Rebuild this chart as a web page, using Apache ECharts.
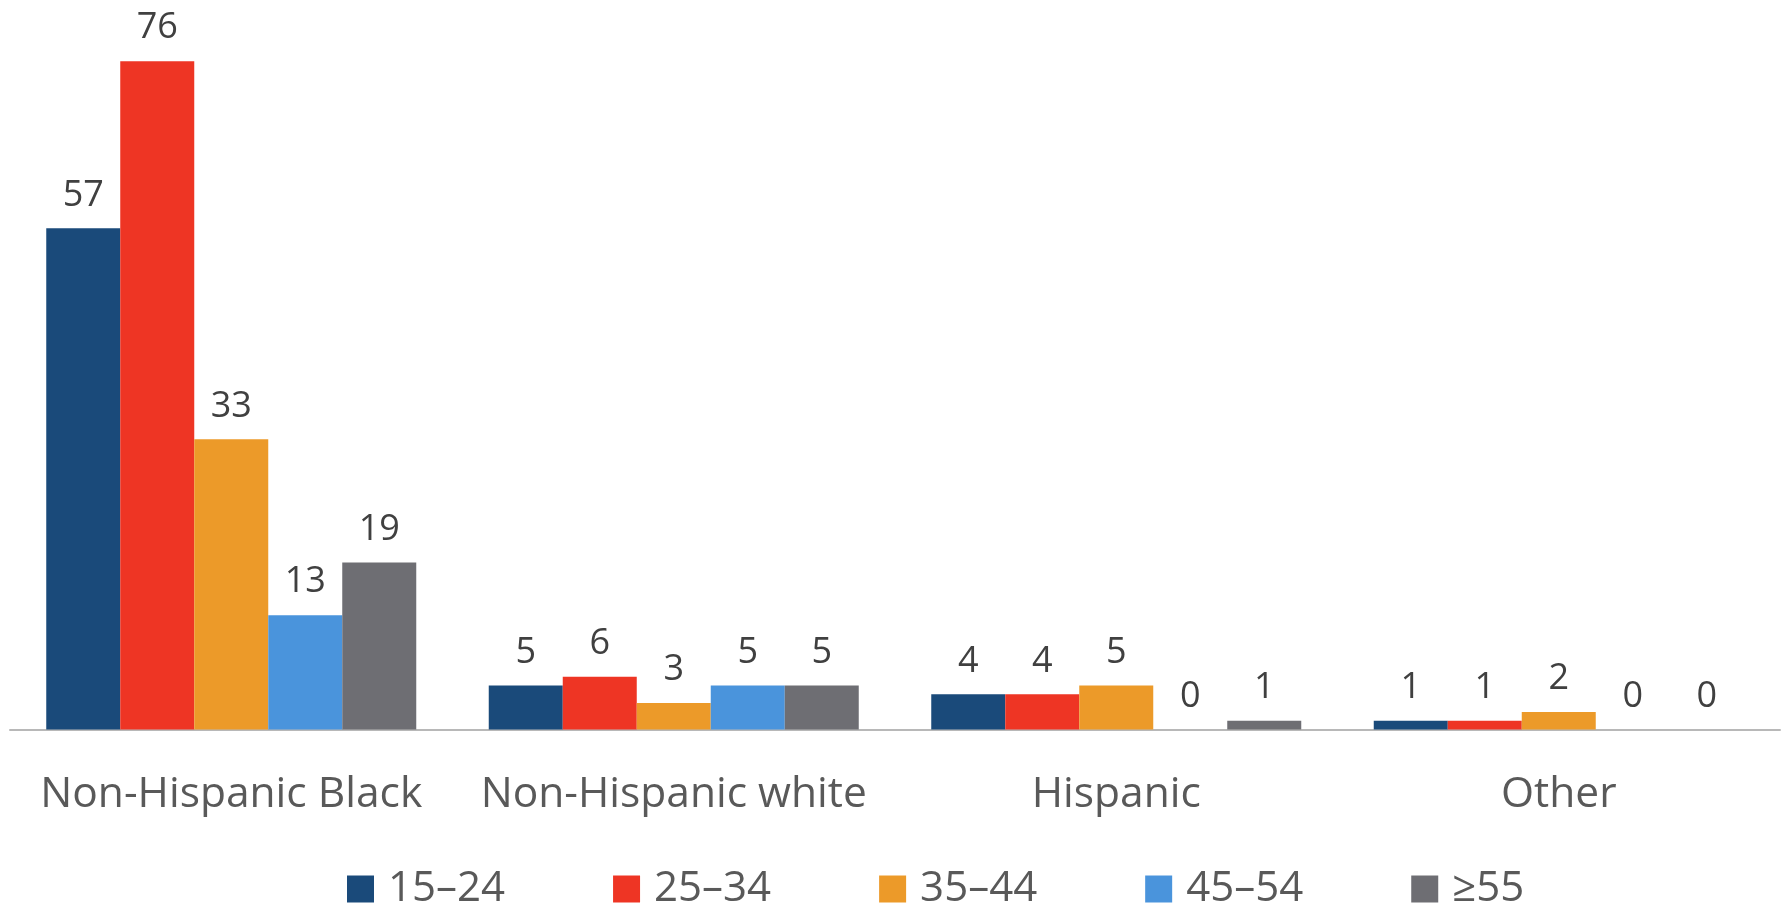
<!DOCTYPE html>
<html>
<head>
<meta charset="utf-8">
<script src="https://cdn.jsdelivr.net/npm/echarts@6/dist/echarts.min.js"></script>
<style>
html,body{margin:0;padding:0;background:#fff;}
#chart{width:1785px;height:906px;}
</style>
</head>
<body>
<div id="chart"></div>
<script>
const categories = ["Non-Hispanic Black", "Non-Hispanic white", "Hispanic", "Other"];
const seriesNames = ["15–24", "25–34", "35–44", "45–54", "≥55"];
const age15_24 = [57, 5, 4, 1];
const age25_34 = [76, 6, 4, 1];
const age35_44 = [33, 3, 5, 2];
const age45_54 = [13, 5, 0, 0];
const age55plus = [19, 5, 1, 0];
const seriesValues = [age15_24, age25_34, age35_44, age45_54, age55plus];
const colors = ["#1a4a7a", "#ee3524", "#ec9a29", "#4a94dc", "#6e6e73"];

const FONT = "Open Sans";
const chart = echarts.init(document.getElementById('chart'), null, {renderer: 'canvas'});
chart.setOption({
  animation: false,
  backgroundColor: '#ffffff',
  color: colors,
  grid: {left: 10, right: 5, top: 26, bottom: 176.5, containLabel: false},
  legend: {
    left: 342, top: 863,
    itemWidth: 27, itemHeight: 27, itemGap: 108,
    icon: 'rect',
    textStyle: {fontFamily: FONT, fontSize: 42, color: '#595959', padding: [0, 0, 0, 9]},
    data: seriesNames
  },
  xAxis: {
    type: 'category',
    data: categories,
    axisLine: {show: true, lineStyle: {color: '#b8b8b8', width: 2}},
    axisTick: {show: false},
    axisLabel: {interval: 0, fontFamily: FONT, fontSize: 42.5, color: '#595959', margin: 44}
  },
  yAxis: {
    type: 'value', min: 0, max: 80,
    show: false,
    splitLine: {show: false}
  },
  series: seriesNames.map((name, i) => ({
    name: name,
    type: 'bar',
    data: seriesValues[i],
    barWidth: 74,
    barGap: '0%',
    itemStyle: {color: colors[i]},
    label: {
      show: true, position: 'top', distance: 15,
      fontFamily: FONT, fontSize: 36, color: '#404040'
    }
  }))
});
</script>
</body>
</html>
